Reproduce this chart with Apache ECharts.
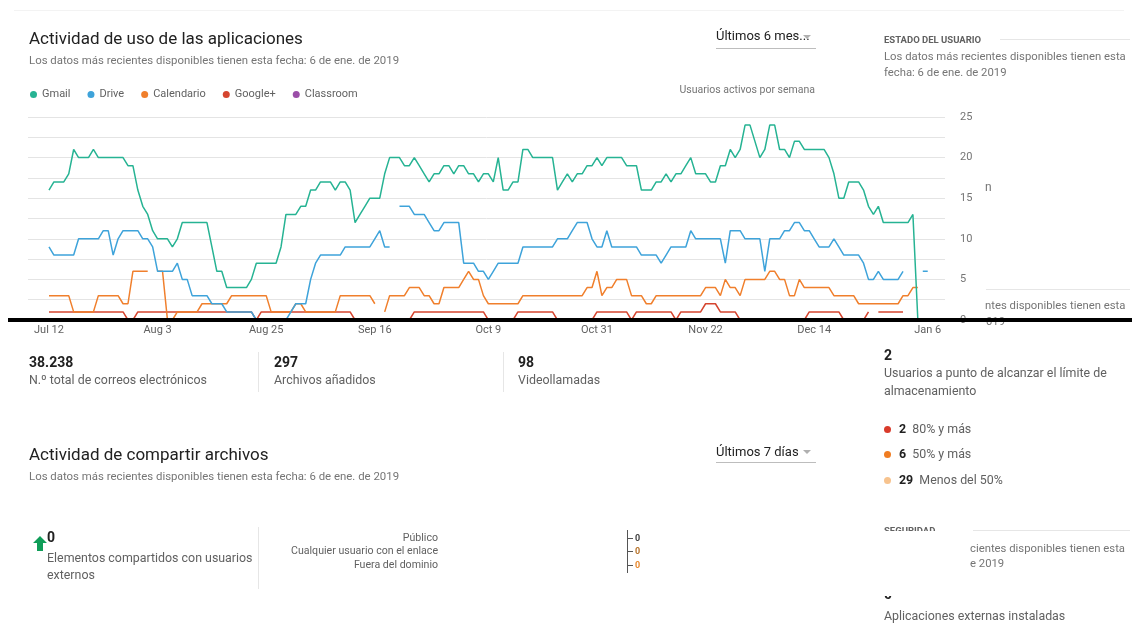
<!DOCTYPE html>
<html>
<head>
<meta charset="utf-8">
<script src="https://cdn.jsdelivr.net/npm/echarts@6/dist/echarts.min.js"></script>
<style>
  body { margin: 0; width: 1132px; height: 623px; overflow: hidden; background: #fff; position: relative;
         font-family: Roboto, "Noto Sans", sans-serif; }
  #chart { position: absolute; left: 0; top: 0; width: 1132px; height: 623px; z-index: 0; }
  .t { position: absolute; white-space: nowrap; line-height: 1; z-index: 1; }
  .h1 { font-size: 17px; color: #212121; }
  .sub { font-size: 11.4px; color: #757575; }
  .num { font-size: 14px; font-weight: 700; color: #212121; }
  .lbl { font-size: 12.4px; color: #616161; }
  .ln { position: absolute; z-index: 1; }
  .dd { font-size: 13px; color: #212121; }
  .tri { position: absolute; width: 0; height: 0; border-left: 4px solid transparent; border-right: 4px solid transparent;
         border-top: 4px solid #b0b0b0; z-index: 1; }
  .dot { position: absolute; width: 7px; height: 7px; border-radius: 50%; z-index: 1; }
</style>
</head>
<body>
<div id="chart"></div>

<!-- bloque 1 -->
<div class="ln" style="left:14px;top:10px;width:1110px;height:1px;background:#f3f3f3"></div>
<div class="t h1" style="left:29px;top:30px">Actividad de uso de las aplicaciones</div>
<div class="t sub" style="left:29px;top:55px">Los datos más recientes disponibles tienen esta fecha: 6 de ene. de 2019</div>
<div class="t dd" style="left:716px;top:29px">Últimos 6 mes...</div>
<div class="tri" style="left:803px;top:35px"></div>
<div class="ln" style="left:716px;top:48px;width:100px;height:1px;background:#bdbdbd"></div>
<div class="t" style="right:317px;top:85px;font-size:10.5px;color:#757575">Usuarios activos por semana</div>

<!-- columna derecha -->
<div class="t" style="left:884px;top:35px;font-size:9.5px;font-weight:700;color:#616161">ESTADO DEL USUARIO</div>
<div class="ln" style="left:1000px;top:39px;width:130px;height:1px;background:#e6e6e6"></div>
<div class="t sub" style="left:884px;top:51px;font-size:11.3px">Los datos más recientes disponibles tienen esta</div>
<div class="t sub" style="left:884px;top:67px;font-size:11.3px">fecha: 6 de ene. de 2019</div>
<div class="t sub" style="left:985px;top:181px;font-size:12px">n</div>
<div class="ln" style="left:986px;top:289px;width:144px;height:1px;background:#e6e6e6"></div>
<div class="t sub" style="left:985px;top:300px;font-size:11.3px">ntes disponibles tienen esta</div>
<div class="t sub" style="left:986px;top:316px;font-size:11.3px">019</div>

<!-- estadísticas -->
<div class="t num" style="left:29px;top:355px">38.238</div>
<div class="t lbl" style="left:29px;top:374px">N.º total de correos electrónicos</div>
<div class="ln" style="left:258px;top:352px;width:1px;height:40px;background:#e6e6e6"></div>
<div class="t num" style="left:274px;top:355px">297</div>
<div class="t lbl" style="left:274px;top:374px">Archivos añadidos</div>
<div class="ln" style="left:503px;top:352px;width:1px;height:40px;background:#e6e6e6"></div>
<div class="t num" style="left:518px;top:355px">98</div>
<div class="t lbl" style="left:518px;top:374px">Videollamadas</div>

<div class="t num" style="left:884px;top:348px">2</div>
<div class="t lbl" style="left:884px;top:367px">Usuarios a punto de alcanzar el límite de</div>
<div class="t lbl" style="left:884px;top:385px">almacenamiento</div>
<div class="dot" style="left:884px;top:426px;background:#d93b2b"></div>
<div class="t lbl" style="left:899px;top:423px"><b style="color:#212121">2</b>&nbsp; 80% y más</div>
<div class="dot" style="left:884px;top:451px;background:#f07d22"></div>
<div class="t lbl" style="left:899px;top:448px"><b style="color:#212121">6</b>&nbsp; 50% y más</div>
<div class="dot" style="left:884px;top:477px;background:#f7c38e"></div>
<div class="t lbl" style="left:899px;top:474px"><b style="color:#212121">29</b>&nbsp; Menos del 50%</div>

<!-- bloque 2 -->
<div class="t h1" style="left:29px;top:446px">Actividad de compartir archivos</div>
<div class="t sub" style="left:29px;top:471px">Los datos más recientes disponibles tienen esta fecha: 6 de ene. de 2019</div>
<div class="t dd" style="left:716px;top:445px">Últimos 7 días</div>
<div class="tri" style="left:803px;top:450px"></div>
<div class="ln" style="left:716px;top:462px;width:100px;height:1px;background:#bdbdbd"></div>

<svg style="position:absolute;left:33px;top:536px;z-index:1" width="14" height="15" viewBox="0 0 14 15">
  <polygon points="7,0 14,7 10,7 10,15 4,15 4,7 0,7" fill="#0f9d58"/>
</svg>
<div class="t num" style="left:47px;top:530px">0</div>
<div class="t lbl" style="left:47px;top:552px">Elementos compartidos con usuarios</div>
<div class="t lbl" style="left:47px;top:569px">externos</div>
<div class="ln" style="left:258px;top:527px;width:1px;height:62px;background:#e6e6e6"></div>
<div class="t" style="right:694px;top:533px;font-size:10.6px;color:#616161">Público</div>
<div class="t" style="right:694px;top:546px;font-size:10.6px;color:#616161">Cualquier usuario con el enlace</div>
<div class="t" style="right:694px;top:560px;font-size:10.6px;color:#616161">Fuera del dominio</div>
<div class="ln" style="left:627px;top:530px;width:1px;height:43px;background:#555"></div>
<div class="ln" style="left:627px;top:538px;width:6px;height:1px;background:#555"></div>
<div class="ln" style="left:627px;top:551px;width:6px;height:1px;background:#555"></div>
<div class="ln" style="left:627px;top:565px;width:6px;height:1px;background:#555"></div>
<div class="t" style="left:635px;top:534px;font-size:9px;font-weight:700;color:#424242">0</div>
<div class="t" style="left:635px;top:547px;font-size:9px;font-weight:700;color:#b8752e">0</div>
<div class="t" style="left:635px;top:561px;font-size:9px;font-weight:700;color:#e8892f">0</div>

<div style="position:absolute;left:884px;top:526px;width:80px;height:5px;overflow:hidden;z-index:1">
  <div class="t" style="left:0;top:0;font-size:9.5px;font-weight:700;color:#616161">SEGURIDAD</div>
</div>
<div class="ln" style="left:973px;top:530px;width:157px;height:1px;background:#e6e6e6"></div>
<div class="t sub" style="left:970px;top:543px;font-size:11.3px">cientes disponibles tienen esta</div>
<div class="t sub" style="left:970px;top:558px;font-size:11.3px">e 2019</div>
<div style="position:absolute;left:884px;top:596px;width:20px;height:5px;overflow:hidden;z-index:1">
  <div class="t num" style="left:0;top:-9px">0</div>
</div>
<div class="t lbl" style="left:884px;top:610px">Aplicaciones externas instaladas</div>

<div style="position:absolute;left:8px;top:318px;width:1124px;height:4px;background:#000;z-index:3"></div>

<script>
// días desde el 12 de julio
const tickDays = [0, 22, 44, 66, 89, 111, 133, 155, 178];
const tickLabels = ['Jul 12', 'Aug 3', 'Aug 25', 'Sep 16', 'Oct 9', 'Oct 31', 'Nov 22', 'Dec 14', 'Jan 6'];

const gmail = [16,17,17,17,18,21,20,20,20,21,
  20,20,20,20,20,20,19,19,16,14,
  13,11,10,10,10,9,10,12,12,12,
  12,12,12,9,6,6,4,4,4,4,
  4,5,7,7,7,7,7,9,13,13,
  13,14,14,16,16,17,17,17,16,17,
  17,16,12,13,14,15,15,15,18,20,
  20,20,19,19,20,19,18,17,18,18,
  19,19,18,19,19,18,18,17,18,18,
  17,20,16,16,17,17,21,21,20,20,
  20,20,20,16,17,18,17,18,18,19,
  19,20,19,20,20,20,20,19,19,19,
  16,16,16,17,17,18,17,18,18,19,
  20,18,18,18,17,17,19,19,21,20,
  21,24,24,22,20,21,24,24,21,21,
  20,22,22,21,21,21,21,21,20,18,
  15,15,17,17,17,16,14,13,14,12,
  12,12,12,12,12,13,0,null,null];

const drive = [9,8,8,8,8,8,10,10,10,10,
  10,11,11,8,10,11,11,11,11,10,
  10,9,6,6,6,6,7,5,5,3,
  3,3,3,2,2,2,1,1,1,1,
  1,1,0,0,0,0,0,0,0,1,
  2,2,2,5,7,8,8,8,8,8,
  9,9,9,9,9,9,10,11,9,9,
  null,14,14,14,13,13,13,12,11,11,
  12,12,12,12,7,7,7,6,6,5,
  6,7,7,7,7,7,9,9,9,9,
  9,9,9,10,10,10,11,12,12,12,
  10,9,9,11,9,9,9,9,9,9,
  8,8,8,8,7,8,9,9,9,9,
  11,10,10,10,10,10,10,7,11,11,
  11,10,10,10,10,6,10,10,10,11,
  11,12,12,11,11,10,9,9,9,10,
  9,8,8,8,8,7,5,5,6,5,
  5,5,5,6,null,null,null,6,6];

const calendario = [3,3,3,3,3,1,1,1,1,1,
  3,3,3,3,3,2,2,6,6,6,
  6,null,6,6,0,0,1,1,1,1,
  1,2,2,2,2,2,2,3,3,3,
  3,3,3,3,3,1,1,1,1,1,
  2,2,1,1,1,1,1,1,1,3,
  3,3,3,3,3,3,2,null,1,3,
  3,3,3,4,4,4,3,3,2,2,
  4,4,4,4,5,6,5,5,3,2,
  2,2,2,2,2,2,3,3,3,3,
  3,3,3,3,3,3,3,3,3,4,
  4,6,3,4,4,5,5,5,3,3,
  3,2,2,3,3,3,3,3,3,3,
  3,3,3,4,4,4,3,5,4,4,
  3,5,5,5,5,5,6,6,5,5,
  3,3,5,4,4,4,4,4,4,3,
  3,3,3,3,2,2,2,2,2,2,
  2,2,2,3,3,4,4,null,null];

const googlePlus = [1,1,1,1,1,1,1,1,1,1,
  1,1,1,1,1,1,0,0,1,1,
  1,1,1,1,1,1,1,1,1,1,
  1,1,1,1,1,1,1,1,1,1,
  1,1,0,1,1,1,1,1,1,1,
  1,1,1,1,1,1,1,1,1,1,
  1,1,0,0,0,0,0,0,0,0,
  0,0,0,0,1,1,1,1,1,1,
  1,1,1,1,1,1,1,1,1,0,
  0,0,0,0,0,1,1,1,1,1,
  1,1,1,0,0,0,0,0,0,0,
  0,1,1,1,1,1,1,1,0,1,
  1,1,1,1,1,1,1,0,1,1,
  1,1,1,2,2,2,1,1,1,1,
  0,0,0,0,0,0,0,0,0,0,
  0,0,0,0,1,1,1,1,1,1,
  1,0,0,0,0,0,1,null,1,1,
  1,1,1,1,null,null,null,null,null];

const classroom = [0,0,0,0,0,0,0,0,0,0,
  0,0,0,0,0,0,0,0,0,0,
  0,0,0,0,0,0,0,0,0,0,
  0,0,0,0,0,0,0,0,0,0,
  0,0,0,0,0,0,0,0,0,0,
  0,0,0,0,0,0,0,0,0,0,
  0,0,0,0,0,0,0,0,0,0,
  0,0,0,0,0,0,0,0,0,0,
  0,0,0,0,0,0,0,0,0,0,
  0,0,0,0,0,0,0,0,0,0,
  0,0,0,0,0,0,0,0,0,0,
  0,0,0,0,0,0,0,0,0,0,
  0,0,0,0,0,0,0,0,0,0,
  0,0,0,0,0,0,0,0,0,0,
  0,0,0,0,0,0,0,0,0,0,
  0,0,0,0,0,0,0,0,0,0,
  0,0,0,0,0,0,0,0,0,0,
  0,0,0,0,0,0,0,null,null];

const seriesDefs = [
  { name: 'Gmail', data: gmail, color: '#26b393' },
  { name: 'Drive', data: drive, color: '#3ea3da' },
  { name: 'Calendario', data: calendario, color: '#f07f2c' },
  { name: 'Google+', data: googlePlus, color: '#d5452f' },
  { name: 'Classroom', data: classroom, color: '#9b4ea8' }
];

const toPairs = arr => arr.map((v, i) => [i, v == null ? '-' : v]);

const myChart = echarts.init(document.getElementById('chart'));
const option = {
  animation: false,
  textStyle: { fontFamily: 'Roboto' },
  grid: { left: 28, right: 187, top: 117, bottom: 303 },
  legend: {
    left: 25, top: 84, icon: 'circle', itemWidth: 7, itemHeight: 7, itemGap: 17,
    selectedMode: false,
    textStyle: { color: '#616161', fontSize: 11, fontFamily: 'Roboto' },
    data: seriesDefs.map(s => s.name)
  },
  xAxis: {
    type: 'value', min: -4.25, max: 181.5,
    axisLine: { show: false }, axisTick: { show: false }, splitLine: { show: false },
    axisLabel: {
      customValues: tickDays,
      formatter: v => tickLabels[tickDays.indexOf(v)] || '',
      color: '#616161', fontSize: 11, margin: 5, fontFamily: 'Roboto'
    }
  },
  yAxis: {
    type: 'value', position: 'right', min: 0, max: 25, interval: 2.5,
    axisLine: { show: false }, axisTick: { show: false },
    splitLine: { lineStyle: { color: '#e4e4e4', width: 1 } },
    axisLabel: {
      margin: 15, color: '#757575', fontSize: 11, fontFamily: 'Roboto',
      formatter: v => (v % 5 === 0 ? String(v) : '')
    }
  },
  series: seriesDefs.slice().reverse().map(s => ({
    name: s.name, type: 'line', data: toPairs(s.data),
    showSymbol: false, symbol: 'circle', connectNulls: false,
    itemStyle: { color: s.color },
    lineStyle: { color: s.color, width: 1.5 }
  }))
};
myChart.setOption(option);
window.addEventListener('resize', function () {
  myChart.resize();
});
</script>
</body>
</html>
